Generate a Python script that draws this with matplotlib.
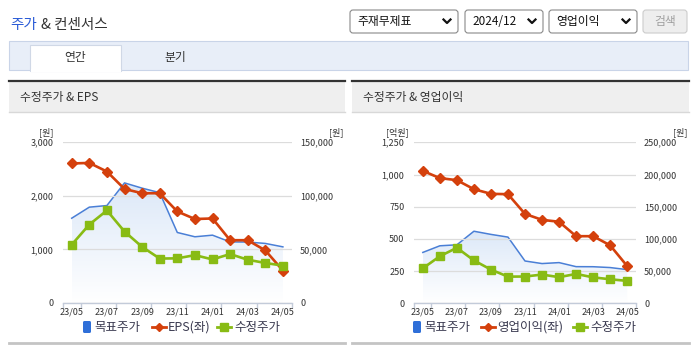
import numpy as np
import matplotlib
matplotlib.use('Agg')
import matplotlib.pyplot as plt
from matplotlib.patches import Rectangle, FancyBboxPatch
from matplotlib.lines import Line2D
from matplotlib.transforms import Affine2D
from matplotlib.colors import LinearSegmentedColormap

plt.rcParams['font.family'] = ['Noto Sans CJK KR', 'DejaVu Sans']

# 데이터
months = ['23/05', '23/06', '23/07', '23/08', '23/09', '23/10', '23/11',
          '23/12', '24/01', '24/02', '24/03', '24/04', '24/05']
eps = [2600, 2610, 2450, 2125, 2045, 2045, 1705, 1565, 1575, 1170, 1170, 980, 605]
op_income = [1028, 972, 956, 886, 850, 847, 694, 648, 633, 521, 521, 450, 289]
target = [79000, 89300, 90800, 111900, 107000, 102800, 65700, 61700, 63200,
          56900, 56800, 55500, 52300]
price = [54300, 73100, 86200, 66600, 52300, 41400, 41600, 44600, 40600,
         45600, 40300, 37300, 34800]

W, H = 695, 349
fig = plt.figure(figsize=(W / 100, H / 100), dpi=100)
px = Affine2D().scale(1 / W, -1 / H).translate(0, 1) + fig.transFigure

BLUE = '#4a7fd6'
RED = '#d4400c'
GREEN = '#88bb14'
TXT = '#333333'


def rect(x0, y0, x1, y1, fc, ec='none', lw=0, rnd=0):
    if rnd:
        p = FancyBboxPatch((x0, y0), x1 - x0, y1 - y0,
                           boxstyle='round,pad=0,rounding_size=%s' % rnd,
                           fc=fc, ec=ec, lw=lw, transform=px)
    else:
        p = Rectangle((x0, y0), x1 - x0, y1 - y0, fc=fc, ec=ec, lw=lw, transform=px)
    fig.add_artist(p)


def text(x, y, s, **kw):
    kw.setdefault('color', TXT)
    kw.setdefault('va', 'center')
    fig.text(x, y, s, transform=px, **kw)


# 상단 제목
text(10, 25, '주가', fontsize=10.5, color='#2a5bd7')
text(41, 25, '& 컨센서스', fontsize=10.5)

# 드롭다운
for (x0, x1, s) in [(350, 458, '주재무제표'), (465, 543, '2024/12'), (549, 637, '영업이익')]:
    rect(x0, 10, x1, 33, 'white', '#8a8a8a', 0.8, rnd=3)
    text(x0 + 7, 21.5, s, fontsize=8.5, color='#111111')
    cx = x1 - 11
    fig.add_artist(Line2D([cx - 3.5, cx, cx + 3.5], [19.5, 23, 19.5], transform=px,
                          color='#111111', lw=1.6))
rect(643, 10, 687, 33, '#eeeeee', '#cccccc', 0.8, rnd=3)
text(665, 21.5, '검색', fontsize=8.5, color='#a0a0a0', ha='center')

# 탭
rect(9, 41, 688, 70, '#e8eef8', '#c9d4e8', 0.8)
rect(30, 45, 121, 71, 'white', '#d0d8e6', 0.8)
rect(30.5, 69, 120.5, 72, 'white')
text(75, 58, '연간', fontsize=8.5, ha='center')
text(175, 57, '분기', fontsize=8.5, ha='center')


def panel(x0, x1, title, ax_rect, lmax, lstep, rmax, rstep, lunit, left_data,
          left_label):
    # 패널 헤더
    rect(x0, 82, x1, 112, '#efefef')
    fig.add_artist(Line2D([x0, x1], [81, 81], transform=px, color='#333333', lw=1.6))
    fig.add_artist(Line2D([x0, x1], [112, 112], transform=px, color='#d8d8d8', lw=1))
    fig.add_artist(Line2D([x0, x1], [343, 343], transform=px, color='#c4c4c4', lw=2))
    text(x0 + 11, 98, title, fontsize=8.5)

    ax0, ay0, ax1, ay1 = ax_rect
    ax = fig.add_axes([ax0 / W, 1 - ay1 / H, (ax1 - ax0) / W, (ay1 - ay0) / H])
    axb = ax.twinx()
    axg = ax.twinx()
    axb.set_zorder(1)
    ax.set_zorder(2)
    axg.set_zorder(3)
    n = len(months)
    x = np.arange(n)
    for a in (ax, axb, axg):
        a.patch.set_visible(False)
        a.set_xlim(-0.5, n - 0.5)
        for sp in a.spines.values():
            sp.set_visible(False)
    ax.set_ylim(0, lmax)
    axb.set_ylim(0, rmax)
    axg.set_ylim(0, rmax)

    # 목표주가 영역 (그라데이션)
    poly = axb.fill_between(x, target, 0, color='none', lw=0)
    cmap = LinearSegmentedColormap.from_list('g', ['#ffffff', '#dce8f8'])
    grad = np.linspace(0, 1, 256).reshape(-1, 1)
    im = axb.imshow(grad, cmap=cmap, extent=(0, n - 1, 0, max(target)),
                    origin='lower', aspect='auto', zorder=1)
    im.set_clip_path(poly.get_paths()[0], transform=axb.transData)
    axb.plot(x, target, color=BLUE, lw=1.1, zorder=2)

    ax.plot(x, left_data, color=RED, lw=1.9, marker='D', ms=5, mec=RED, mfc=RED,
            clip_on=False)
    axg.plot(x, price, color=GREEN, lw=1.9, marker='s', ms=6.3, mec=GREEN, mfc=GREEN,
             clip_on=False)

    # 축
    ax.set_yticks(np.arange(0, lmax + 1, lstep))
    ax.set_yticklabels(['{:,}'.format(v) for v in np.arange(0, lmax + 1, lstep)])
    axb.set_yticks(np.arange(0, rmax + 1, rstep))
    axb.set_yticklabels(['{:,}'.format(v) for v in np.arange(0, rmax + 1, rstep)])
    axg.set_yticks([])
    ax.tick_params(axis='y', length=0, pad=7, labelsize=6.5, labelcolor=TXT)
    axb.tick_params(axis='y', length=0, pad=6, labelsize=6.5, labelcolor=TXT)
    ax.yaxis.grid(True, color='#dcdcdc', lw=0.9)
    ax.set_axisbelow(True)

    ax.spines['bottom'].set_visible(True)
    ax.spines['bottom'].set_color('#c3cbd9')
    ax.spines['bottom'].set_linewidth(1)
    ax.set_xticks([-0.5] + [i + 0.5 for i in range(0, n, 2)])
    ax.set_xticklabels([])
    ax.set_xticks(range(0, n, 2), minor=True)
    ax.set_xticklabels(months[::2], minor=True)
    ax.tick_params(axis='x', which='major', length=3.5, color='#c3cbd9', width=1)
    ax.tick_params(axis='x', which='minor', length=0, pad=3, labelsize=6.5,
                   labelcolor=TXT)

    # 단위
    text(ax0 - 17, 132, lunit, fontsize=6.5, ha='center')
    text(ax1 + 45, 132, '[원]', fontsize=6.5, ha='center')

    # 범례
    lx = left_label
    ly = 327
    rect(lx[0], 321, lx[0] + 8, 333, '#2f6fd8', rnd=1.5)
    text(lx[0] + 11, ly, '목표주가', fontsize=9, color='#3a3a50')
    fig.add_artist(Line2D([lx[1] - 7, lx[1] + 7], [ly, ly], transform=px, color=RED,
                          lw=2))
    fig.add_artist(Line2D([lx[1]], [ly], transform=px, color=RED, marker='D', ms=4.5,
                          ls='none'))
    text(lx[1] + 9, ly, lx[2], fontsize=9, color='#3a3a50')
    fig.add_artist(Line2D([lx[3] - 7, lx[3] + 7], [ly, ly], transform=px, color=GREEN,
                          lw=2))
    fig.add_artist(Line2D([lx[3]], [ly], transform=px, color=GREEN, marker='s', ms=6,
                          ls='none'))
    text(lx[3] + 10, ly, '수정주가', fontsize=9, color='#3a3a50')


panel(9, 345, '수정주가 & EPS', (62.9, 142, 291.7, 303), 3000, 1000, 150000, 50000,
      '[원]', eps, (83, 159, 'EPS(좌)', 224))
panel(352, 689, '수정주가 & 영업이익', (414.3, 142.3, 635.7, 303.3), 1250, 250, 250000,
      50000, '[억원]', op_income, (413, 488, '영업이익(좌)', 580))

fig.savefig('out.png', dpi=100, facecolor='white')
